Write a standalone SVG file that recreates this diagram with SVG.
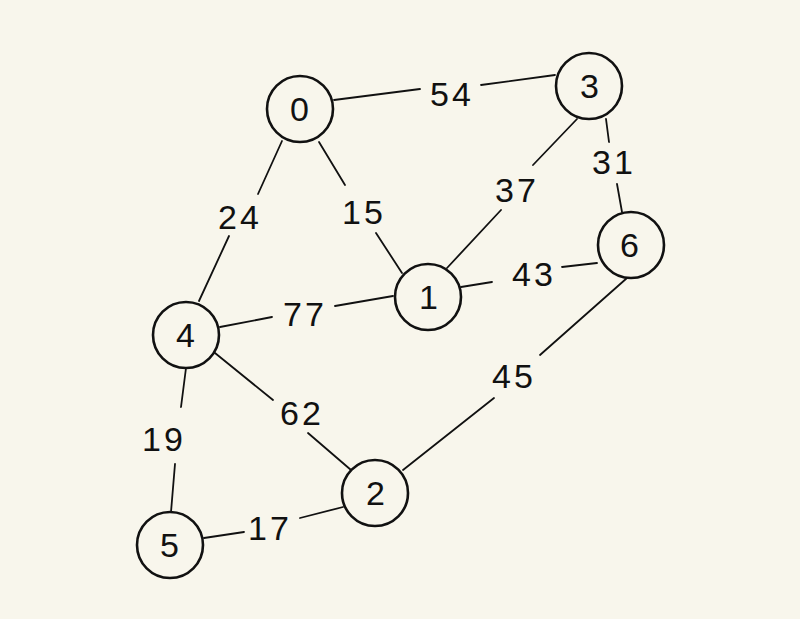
<svg xmlns="http://www.w3.org/2000/svg" width="800" height="619" viewBox="0 0 800 619">
<style>
.bg{fill:#f8f6ec}
.node circle{fill:none;stroke:#111;stroke-width:2.6}
.node text,.lbl{font-family:"Liberation Sans","DejaVu Sans",sans-serif;font-size:34px;fill:#111;text-anchor:middle;letter-spacing:3px}
#edges line{stroke:#111;stroke-width:1.8;stroke-linecap:round}
</style>
<rect class="bg" width="800" height="619"/>
<g id="edges">
<line x1="334" y1="100" x2="420" y2="89"/><line x1="481" y1="85" x2="555" y2="75"/>
<line x1="282" y1="141" x2="258" y2="194"/><line x1="229" y1="236" x2="199" y2="301"/>
<line x1="319" y1="142" x2="345" y2="185"/><line x1="376" y1="233" x2="402" y2="273"/>
<line x1="577" y1="119" x2="533" y2="165"/><line x1="501" y1="210" x2="447" y2="268"/>
<line x1="606" y1="119" x2="609" y2="142"/><line x1="617" y1="184" x2="622" y2="212"/>
<line x1="461" y1="287" x2="492" y2="282"/><line x1="562" y1="267" x2="597" y2="263"/>
<line x1="220" y1="327" x2="272" y2="317"/><line x1="335" y1="306" x2="393" y2="296"/>
<line x1="215" y1="353" x2="273" y2="400"/><line x1="308" y1="433" x2="351" y2="470"/>
<line x1="186" y1="368" x2="181" y2="407"/><line x1="175" y1="464" x2="171" y2="512"/>
<line x1="204" y1="538" x2="244" y2="532"/><line x1="300" y1="518" x2="343" y2="507"/>
<line x1="627" y1="278" x2="540" y2="355"/><line x1="494" y1="398" x2="403" y2="470"/>
</g>
<g id="edge-labels">
<text class="lbl" x="452" y="106">54</text>
<text class="lbl" x="240" y="229">24</text>
<text class="lbl" x="364" y="224">15</text>
<text class="lbl" x="517" y="202">37</text>
<text class="lbl" x="614" y="174">31</text>
<text class="lbl" x="534" y="286">43</text>
<text class="lbl" x="305" y="326">77</text>
<text class="lbl" x="302" y="425">62</text>
<text class="lbl" x="164" y="451">19</text>
<text class="lbl" x="270" y="540">17</text>
<text class="lbl" x="514" y="388">45</text>
</g>
<g id="node0" class="node"><circle cx="300" cy="109" r="33"/><text x="301" y="121">0</text></g>
<g id="node3" class="node"><circle cx="589" cy="86" r="33"/><text x="591" y="98">3</text></g>
<g id="node6" class="node"><circle cx="631" cy="245" r="33"/><text x="631" y="257">6</text></g>
<g id="node1" class="node"><circle cx="428" cy="297" r="33"/><text x="430" y="309">1</text></g>
<g id="node4" class="node"><circle cx="186" cy="335" r="33"/><text x="187" y="347">4</text></g>
<g id="node2" class="node"><circle cx="375" cy="493" r="33"/><text x="377" y="505">2</text></g>
<g id="node5" class="node"><circle cx="170" cy="545" r="33"/><text x="171" y="557">5</text></g>
</svg>
